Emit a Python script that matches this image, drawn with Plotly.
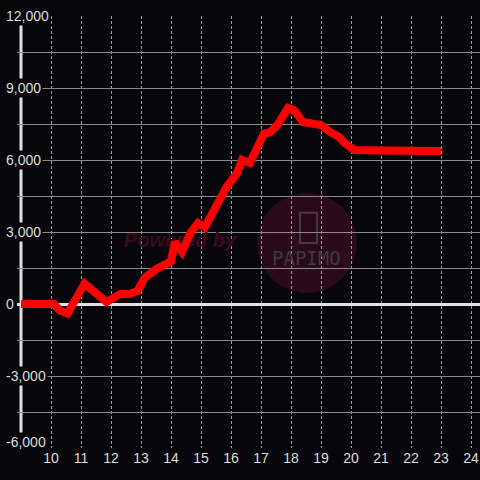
import plotly.graph_objects as go

# ---- data ----
hours = [9, 10.1, 10.3, 10.55, 11.12, 11.5, 11.85, 12.3, 12.6, 12.88, 13.13, 13.5, 14.0,
         14.13, 14.37, 14.65, 14.9, 15.13, 15.55, 15.85, 16.2, 16.37, 16.63, 17.1, 17.3,
         17.55, 17.9, 18.1, 18.4, 18.7, 19.0, 19.3, 19.6, 19.8, 20.1, 21.0, 22.0, 23.0]
values = [0, 0, -280, -400, 850, 500, 80, 420, 420, 540, 1100, 1450, 1780,
          2580, 2170, 2960, 3375, 3200, 4200, 4875, 5450, 6000, 5875, 7100, 7150,
          7460, 8170, 8080, 7580, 7500, 7460, 7170, 6960, 6700, 6420, 6400, 6380, 6375]

x_ticks = list(range(10, 25))
y_label_vals = [12000, 9000, 6000, 3000, 0, -3000, -6000]
y_label_text = ["12,000", "9,000", "6,000", "3,000", "0", "-3,000", "-6,000"]

BG = "#07060a"
TXT = "#dddddd"
X0, X1 = 9 - 4 / 30, 24.3
Y0, Y1 = -6000, 12000
ML, MR, MT, MB = 17, 0, 16, 32
PLOT_W = 480 - ML - MR

fig = go.Figure()

# watermark text (below the line)
fig.add_trace(go.Scatter(
    x=[14.3], y=[2600], mode="text", text=["<b><i>Powered by</i></b>"],
    textfont=dict(size=20, color="#3a0b1c", family="Liberation Sans, Arial"),
    hoverinfo="skip", showlegend=False))

fig.add_trace(go.Scatter(
    x=hours, y=values, mode="lines",
    line=dict(color="#ff0000", width=8), showlegend=False))

shapes = [
    dict(type="circle", xref="x", yref="y", x0=16.87, x1=20.2, y0=460, y1=4620,
         fillcolor="#2a0a1c", line=dict(width=0), layer="below"),
    dict(type="rect", xref="x", yref="y", x0=18.3, x1=18.87, y0=2540, y1=3800,
         fillcolor="rgba(0,0,0,0)", line=dict(color="#4a3a42", width=2), layer="below"),
    dict(type="line", xref="x", yref="paper", x0=9, x1=9, y0=0, y1=1,
         line=dict(color="#dddddd", width=3), layer="between"),
]

annotations = [
    dict(x=18.53, y=1900, xref="x", yref="y", text="PAPIMO", showarrow=False,
         font=dict(size=19, color="#3e3a3d", family="DejaVu Sans Mono"))
]
for v, t in zip(y_label_vals, y_label_text):
    annotations.append(dict(
        x=(4 - ML) / PLOT_W, y=v, xref="paper", yref="y", text=t, showarrow=False,
        xanchor="left", yanchor="middle", bgcolor=BG, borderpad=1,
        yshift=6 if v == Y0 else 0,
        font=dict(size=14, color=TXT, family="Liberation Sans, Arial")))

fig.update_layout(
    width=480, height=480,
    margin=dict(l=ML, r=MR, t=MT, b=MB, autoexpand=False),
    paper_bgcolor=BG, plot_bgcolor=BG,
    shapes=shapes, annotations=annotations,
    xaxis=dict(range=[X0, X1], tickvals=x_ticks, showgrid=True,
               gridcolor="#9a9a9a", gridwidth=1, griddash="3px,2px",
               zeroline=False, showline=False, ticks="", automargin=False,
               tickfont=dict(size=14, color=TXT, family="Liberation Sans, Arial"),
               layer="below traces"),
    yaxis=dict(range=[Y0, Y1], dtick=1500, tick0=0, showgrid=True,
               gridcolor="#8a8a8a", gridwidth=1, showticklabels=False,
               zeroline=True, zerolinecolor="#e2e2e2", zerolinewidth=3,
               showline=False, ticks="", automargin=False, layer="below traces"),
)

fig.write_html("out.html",
               config={"displayModeBar": False},
               post_script="document.body.style.margin='0';"
                           "document.body.style.background='%s';" % BG)
